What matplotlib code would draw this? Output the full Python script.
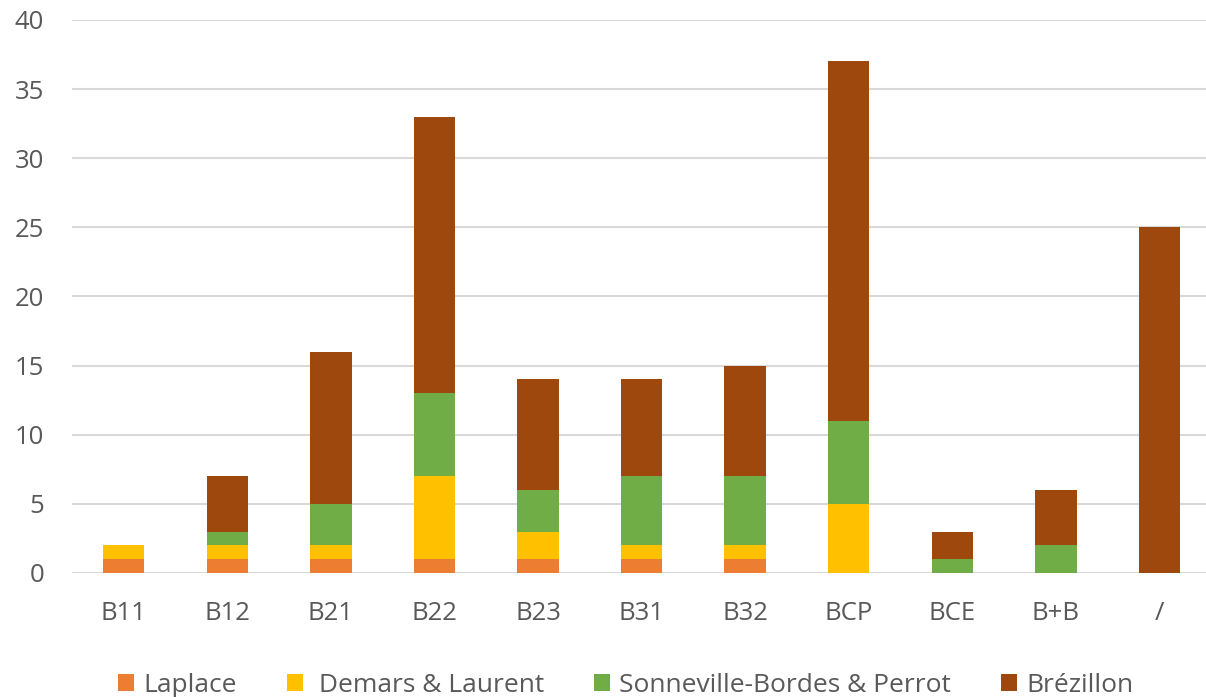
import matplotlib.pyplot as plt
import numpy as np

# Values
categories = ['B11', 'B12', 'B21', 'B22', 'B23', 'B31', 'B32', 'BCP', 'BCE', 'B+B', '/']
laplace = [1, 1, 1, 1, 1, 1, 1, 0, 0, 0, 0]
demars = [1, 1, 1, 6, 2, 1, 1, 5, 0, 0, 0]
sonneville = [0, 1, 3, 6, 3, 5, 5, 6, 1, 2, 0]
brezillon = [0, 4, 11, 20, 8, 7, 8, 26, 2, 4, 25]

series = [
    ('Laplace', laplace, '#ED7D31'),
    (' Demars & Laurent', demars, '#FFC000'),
    ('Sonneville-Bordes & Perrot', sonneville, '#70AD47'),
    ('Brézillon', brezillon, '#9E480E'),
]

plt.rcParams['font.family'] = ['Open Sans', 'DejaVu Sans']
text_color = '#595959'

fig = plt.figure(figsize=(12.06, 6.97), dpi=100)
ax = fig.add_axes([72 / 1206, 124 / 697, 1 - 72 / 1206, 553 / 697])

x = np.arange(len(categories))
bottom = np.zeros(len(categories))
for name, vals, color in series:
    vals = np.array(vals, dtype=float)
    ax.bar(x, vals, width=0.4, bottom=bottom, color=color, label=name, zorder=3)
    bottom += vals

ax.set_ylim(0, 40)
ax.set_xlim(-0.5, 10.45)
ax.set_yticks(np.arange(0, 41, 5))
ax.set_xticks(x)
ax.set_xticklabels(categories)
ax.yaxis.grid(True, color='#D9D9D9', linewidth=1.5, zorder=0)
ax.set_axisbelow(True)
for s in ax.spines.values():
    s.set_visible(False)
ax.tick_params(axis='both', length=0, labelsize=18.5, colors=text_color)
ax.tick_params(axis='x', pad=20)
ax.tick_params(axis='y', pad=20)

fig.legend(loc='center', bbox_to_anchor=(0.519, 12 / 697), ncol=4, frameon=False,
           fontsize=19, labelcolor=text_color, handlelength=0.6, handleheight=0.6,
           handletextpad=0.35, columnspacing=1.9)

fig.savefig('out.png', dpi=100)
